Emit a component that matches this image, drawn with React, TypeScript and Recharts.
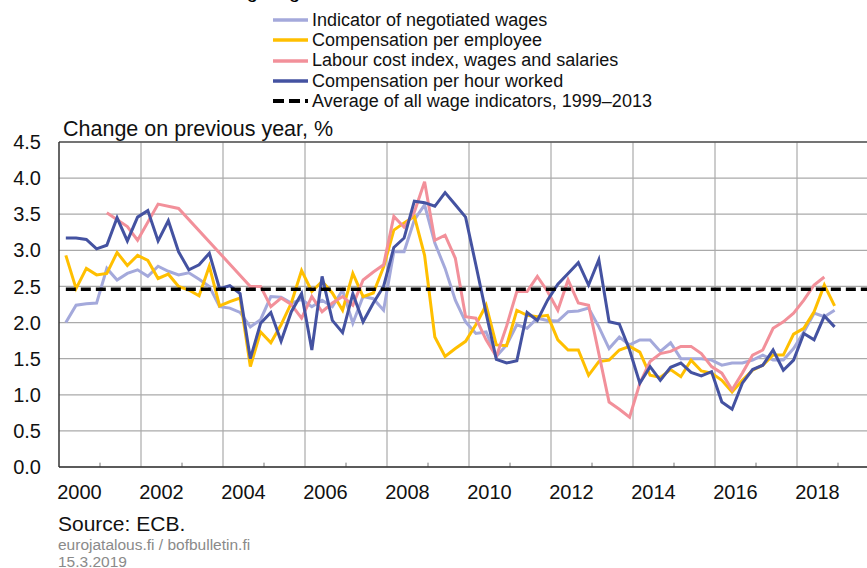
import { CartesianGrid, Legend, Line, LineChart, ReferenceLine, XAxis, YAxis } from "recharts"

// quarterly data 2000Q1 - 2018Q4, plotted at the last month of each quarter
const years = [2000, 2001, 2002, 2003, 2004, 2005, 2006, 2007, 2008, 2009, 2010, 2011, 2012, 2013, 2014, 2015, 2016, 2017, 2018]
const quarterPos = years.flatMap((y) => [1, 2, 3, 4].map((q) => y + (3 * q - 1) / 12))

const negotiatedWages = [
  2.0, 2.24, 2.26, 2.27, 2.75, 2.59, 2.68, 2.73, 2.64, 2.78, 2.71, 2.66, 2.69, 2.6, 2.5, 2.22,
  2.2, 2.14, 1.94, 2.04, 2.36, 2.35, 2.27, 2.32, 2.22, 2.31, 2.22, 2.45, 1.99, 2.36, 2.33, 2.17,
  2.98, 2.98, 3.42, 3.63, 3.1, 2.75, 2.31, 2.01, 1.85, 1.87, 1.53, 1.69, 1.97, 1.92, 2.06, 2.03,
  2.02, 2.15, 2.16, 2.2, 1.94, 1.64, 1.8, 1.69, 1.76, 1.76, 1.6, 1.72, 1.5, 1.5, 1.5, 1.48,
  1.41, 1.44, 1.44, 1.48, 1.55, 1.48, 1.48, 1.64, 1.87, 2.13, 2.08, 2.17,
]
const compPerEmployee = [
  2.93, 2.47, 2.75, 2.66, 2.68, 2.97, 2.79, 2.93, 2.86, 2.61, 2.67, 2.5, 2.45, 2.37, 2.78, 2.23,
  2.29, 2.34, 1.39, 1.87, 1.72, 1.97, 2.27, 2.72, 2.43, 2.57, 2.41, 2.17, 2.68, 2.36, 2.41, 2.77,
  3.28, 3.38, 3.47, 2.93, 1.8, 1.53, 1.64, 1.74, 1.97, 2.24, 1.69, 1.68, 2.17, 2.1, 2.08, 2.1,
  1.76, 1.62, 1.62, 1.27, 1.46, 1.48, 1.62, 1.67, 1.59, 1.27, 1.24, 1.35, 1.25, 1.48, 1.33, 1.3,
  1.2, 1.04, 1.2, 1.34, 1.41, 1.55, 1.55, 1.84, 1.92, 2.15, 2.52, 2.23,
]
const labourCostIndex = [
  null, null, null, null, 3.52, null, 3.33, 3.14, null, 3.64, null, 3.58, null, null, null, null,
  null, null, 2.5, 2.5, 2.22, 2.34, 2.25, 2.06, 2.36, 2.15, 2.27, 2.36, 2.24, 2.59, 2.7, 2.8,
  3.47, 3.32, 3.53, 3.95, 3.14, 3.21, 2.89, 2.08, 2.06, 1.76, 1.53, 1.95, 2.43, 2.43, 2.64, 2.43,
  2.17, 2.59, 2.27, 2.24, null, 0.9, 0.8, 0.69, 1.16, 1.46, 1.57, 1.6, 1.67, 1.67, 1.57, 1.39,
  1.3, 1.07, 1.3, 1.55, 1.62, 1.92, 2.01, 2.13, 2.31, 2.52, 2.63, null,
]
const compPerHour = [
  3.17, 3.17, 3.15, 3.02, 3.07, 3.45, 3.13, 3.46, 3.55, 3.13, 3.41, 2.98, 2.73, 2.8, 2.96, 2.47,
  2.51, 2.4, 1.5, 1.99, 2.14, 1.74, 2.15, 2.4, 1.62, 2.64, 2.03, 1.86, 2.4, 2.01, 2.27, 2.5,
  3.04, 3.17, 3.68, 3.66, 3.61, 3.8, 3.63, 3.46, 2.8, 2.13, 1.49, 1.44, 1.47, 2.14, 2.03, 2.31,
  2.53, 2.68, 2.83, 2.52, 2.87, 2.01, 1.98, 1.62, 1.16, 1.39, 1.2, 1.38, 1.44, 1.31, 1.26, 1.32,
  0.9, 0.8, 1.16, 1.35, 1.41, 1.62, 1.34, 1.48, 1.85, 1.76, 2.09, 1.94,
]
const averageAll = 2.46

const yTicks = [0, 0.5, 1, 1.5, 2, 2.5, 3, 3.5, 4, 4.5]
const gridYears = [2002, 2004, 2006, 2008, 2010, 2012, 2014, 2016, 2018]
const oddYears = [2001, 2003, 2005, 2007, 2009, 2011, 2013, 2015, 2017, 2019]
const labelPos = [2000.5, 2002.5, 2004.5, 2006.5, 2008.5, 2010.5, 2012.5, 2014.5, 2016.5, 2018.5]

const data = quarterPos.map((t, i) => ({
  t,
  negotiated: negotiatedWages[i],
  employee: compPerEmployee[i],
  labour: labourCostIndex[i],
  hour: compPerHour[i],
}))

const series = [
  { key: "negotiated", name: "Indicator of negotiated wages", color: "#A4A9DB" },
  { key: "employee", name: "Compensation per employee", color: "#FFBF00" },
  { key: "labour", name: "Labour cost index, wages and salaries", color: "#F2909A" },
  { key: "hour", name: "Compensation per hour worked", color: "#4452A1" },
]
const avgName = "Average of all wage indicators, 1999–2013"

const font = "'Liberation Sans', Arial, sans-serif"

function LegendBox() {
  const rows = [...series.map((s) => ({ name: s.name, color: s.color, dash: undefined as string | undefined })), { name: avgName, color: "#000", dash: "11 5" }]
  return (
    <div style={{ fontSize: 18, color: "#111", fontFamily: font }}>
      {rows.map((r) => (
        <div key={r.name} style={{ display: "flex", alignItems: "center", height: 20.3, whiteSpace: "nowrap" }}>
          <svg width={39} height={6} style={{ display: "block" }}>
            <line x1={0} y1={3} x2={35} y2={3} stroke={r.color} strokeWidth={r.dash ? 4 : 3.5} strokeDasharray={r.dash} />
          </svg>
          <span>{r.name}</span>
        </div>
      ))}
    </div>
  )
}

export default function App() {
  return (
    <div style={{ position: "fixed", left: 0, top: 0, width: 867, height: 568, overflow: "hidden", background: "#fff", fontFamily: font }}>
      <div style={{ position: "absolute", left: 199, top: -19, fontSize: 20, lineHeight: "20px", whiteSpace: "nowrap", color: "#000" }}>
        Strong wage increases in the euro area
      </div>
      <div style={{ position: "absolute", left: 63, top: 118, fontSize: 21.5, lineHeight: "22px", whiteSpace: "nowrap", color: "#111" }}>
        Change on previous year, %
      </div>
      <LineChart width={880} height={568} data={data} margin={{ top: 142, right: 1, bottom: 71, left: 0 }}>
        <CartesianGrid vertical={false} stroke="#aaaaaa" strokeWidth={1.2} />
        {gridYears.map((y) => (
          <ReferenceLine key={y} x={y} stroke="#aaaaaa" strokeWidth={1.2} />
        ))}
        {oddYears.map((y) => (
          <ReferenceLine
            key={`m${y}`}
            segment={[
              { x: y, y: 0 },
              { x: y, y: 0.06 },
            ]}
            stroke="#777"
            strokeWidth={1}
          />
        ))}
        <XAxis
          dataKey="t"
          type="number"
          domain={[2000, 2020]}
          ticks={labelPos}
          interval={0}
          tickFormatter={(v: number) => String(Math.floor(v))}
          tickLine={false}
          axisLine={{ stroke: "#333", strokeWidth: 1.5 }}
          tickSize={0}
          tickMargin={18}
          tick={{ fontSize: 20, fill: "#111" }}
          height={30}
        />
        <YAxis
          type="number"
          domain={[0, 4.5]}
          ticks={yTicks}
          interval={0}
          tickFormatter={(v: number) => v.toFixed(1)}
          width={59}
          tickLine={false}
          tickSize={0}
          tickMargin={18}
          axisLine={{ stroke: "#333", strokeWidth: 1.5 }}
          tick={{ fontSize: 20, fill: "#111" }}
        />
        <ReferenceLine y={4.5} stroke="#555" strokeWidth={1.5} />
        {series.map((s) => (
          <Line
            key={s.key}
            dataKey={s.key}
            name={s.name}
            type="linear"
            stroke={s.color}
            strokeWidth={3}
            dot={false}
            connectNulls
            isAnimationActive={false}
          />
        ))}
        <ReferenceLine
          segment={[
            { x: quarterPos[0], y: averageAll },
            { x: 2020, y: averageAll },
          ]}
          stroke="#000"
          strokeWidth={3.5}
          strokeDasharray="10 5"
        />
        <Legend layout="vertical" align="center" verticalAlign="middle" content={() => <LegendBox />} wrapperStyle={{ top: 10, left: 273, width: "auto" }} />
      </LineChart>
      <div style={{ position: "absolute", left: 58, top: 513, fontSize: 21, lineHeight: "21px", color: "#111" }}>Source: ECB.</div>
      <div style={{ position: "absolute", left: 58, top: 536, fontSize: 15.5, lineHeight: "17px", color: "#8a8a8a" }}>
        eurojatalous.fi / bofbulletin.fi
        <br />
        15.3.2019
      </div>
    </div>
  )
}
